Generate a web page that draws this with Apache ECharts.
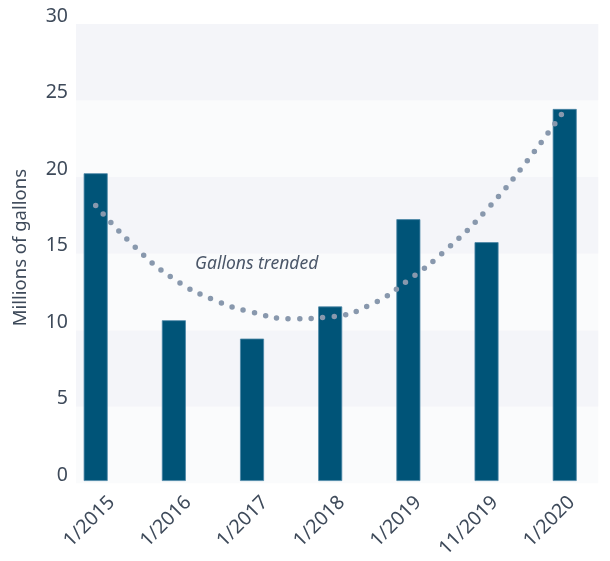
<!DOCTYPE html>
<html>
<head>
<meta charset="utf-8">
<script src="https://cdn.jsdelivr.net/npm/echarts@6/dist/echarts.min.js"></script>
<style>
html,body{margin:0;padding:0;background:#ffffff;}
#chart{width:610px;height:561px;}
</style>
</head>
<body>
<div id="chart"></div>
<script>
// ---- data ----
const categories = ['1/2015', '1/2016', '1/2017', '1/2018', '1/2019', '11/2019', '1/2020'];
const gallons = [20.1, 10.5, 9.3, 11.4, 17.1, 15.6, 24.3];
// trend curve: [category position, value]
const trendX = [0, 0.5, 1, 1.5, 2, 2.5, 3, 3.5, 4, 4.5, 5, 5.5, 6];
const trendY = [18.0, 15.3, 13.2, 11.85, 11.03, 10.6, 10.72, 11.47, 13.12, 15.18, 17.71, 20.78, 24.25];
const yTicks = [0, 5, 10, 15, 20, 25, 30];
const trendLabel = 'Gallons trended';
const trendLabelAt = [2.06, 14.2];
const yAxisTitle = 'Millions of gallons';

const FONT = 'Noto Sans';
const TEXT = '#3e4a5a';

const chart = echarts.init(document.getElementById('chart'), null, {renderer: 'canvas'});
const yMin = yTicks[0], yMax = yTicks[yTicks.length - 1], yStep = yTicks[1] - yTicks[0];

chart.setOption({
  animation: false,
  backgroundColor: '#ffffff',
  grid: [
    {left: 56.6, width: 547.2, top: 21.7, height: 459.3},   // bars + trend
    {left: 76, width: 522.3, top: 24, height: 459.3},       // background bands + y labels
    {left: 73.3, width: 551.6, top: 21.7, height: 459.3}    // x labels
  ],
  xAxis: [
    {type: 'category', gridIndex: 0, data: categories, show: false},
    {type: 'value', gridIndex: 0, min: -0.5, max: 6.5, show: false},
    {type: 'value', gridIndex: 1, min: 0, max: 1, show: false},
    {type: 'category', gridIndex: 2, data: categories,
      axisLine: {show: false}, axisTick: {show: false}, splitLine: {show: false},
      axisLabel: {rotate: 45, margin: 25.5, color: TEXT, fontFamily: FONT, fontSize: 19.5, interval: 0}}
  ],
  yAxis: [
    {type: 'value', gridIndex: 0, min: yMin, max: yMax, interval: yStep, show: false},
    {type: 'value', gridIndex: 1, min: yMin, max: yMax, interval: yStep,
      name: yAxisTitle, nameLocation: 'middle', nameGap: 46, nameRotate: 90,
      nameTextStyle: {color: TEXT, fontFamily: FONT, fontSize: 18.5, padding: [0, 0, 0, 12]},
      axisLine: {show: false}, axisTick: {show: false}, splitLine: {show: false},
      splitArea: {show: true, areaStyle: {color: ['#fafbfc', '#f4f5f9']}},
      axisLabel: {color: TEXT, fontFamily: FONT, fontSize: 19.5, margin: 8,
        verticalAlign: 'bottom', lineHeight: 16}},
    {type: 'value', gridIndex: 2, min: yMin, max: yMax, show: false}
  ],
  series: [
    {
      type: 'bar', xAxisIndex: 0, yAxisIndex: 0, data: gallons, barWidth: 24,
      itemStyle: {color: '#005478', borderColor: '#4a85a6', borderWidth: 0.8},
      z: 2
    },
    {
      type: 'line', xAxisIndex: 1, yAxisIndex: 0,
      data: trendX.map((x, i) => [x, trendY[i]]),
      smooth: 0.5, symbol: 'none', z: 3,
      lineStyle: {color: '#8898ad', width: 5.5, type: [0, 11.5], cap: 'round'},
      markPoint: {
        symbol: 'circle', symbolSize: 0, silent: true,
        label: {show: true, position: 'inside', formatter: trendLabel, color: '#4a5668',
          fontFamily: FONT, fontStyle: 'italic', fontSize: 17.5},
        data: [{coord: trendLabelAt}]
      }
    }
  ]
});
</script>
</body>
</html>
